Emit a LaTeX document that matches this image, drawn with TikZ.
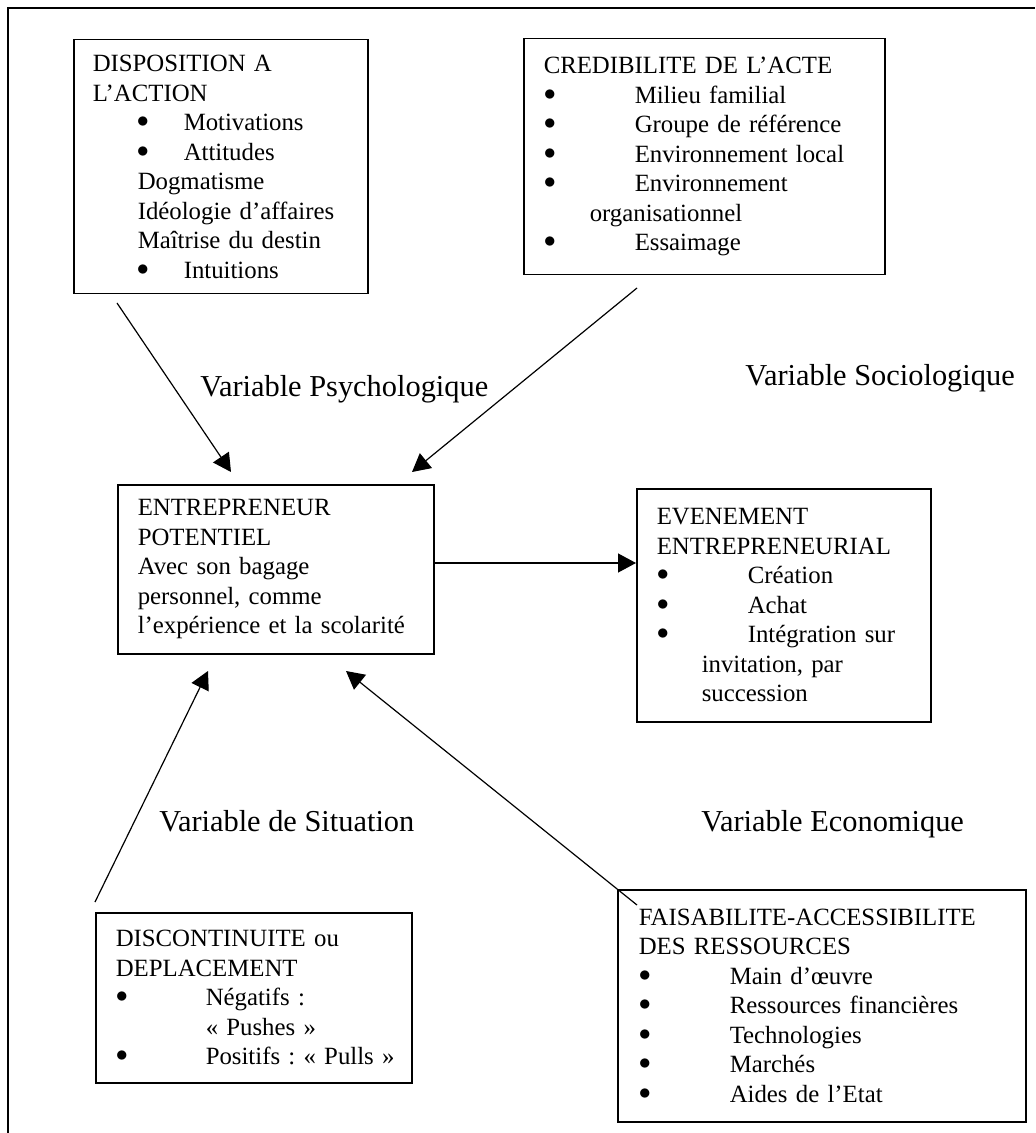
\documentclass[tikz,border=0pt]{standalone}
\usepackage{fontspec}
\setmainfont{Liberation Serif}
\usetikzlibrary{arrows.meta}
\setlength{\parindent}{0pt}
\frenchspacing
\newcommand{\puce}[2]{\hspace*{#1}\makebox[#2][l]{\raisebox{0.12em}{$\bullet$}}}

\begin{document}
\begin{tikzpicture}[x=0.5pt,y=-0.5pt,
    boite/.style={draw, line width=0.75pt, anchor=north west, align=left,
      inner ysep=0pt, font=\fontsize{12.4}{14.75}\selectfont},
    etiq/.style={anchor=base west, inner sep=0pt, font=\fontsize{15.2}{18}\selectfont},
    fleche/.style={line width=0.6pt, -{Triangle[length=9pt,width=9.5pt]}}]
  \useasboundingbox (0,0) rectangle (1035,1133);
  \draw[line width=0.75pt] (8,1133) -- (8,8) -- (1035,8);
  %
  \node[boite, inner xsep=9.5pt, text width=128pt, minimum height=127pt] (disp) at (73,39)
    {DISPOSITION A\\
     L'ACTION\\
     \puce{22pt}{23.5pt}Motivations\\
     \puce{22pt}{23.5pt}Attitudes\\
     \hspace*{22.5pt}Dogmatisme\\
     \hspace*{22.5pt}Idéologie d'affaires\\
     \hspace*{22.5pt}Maîtrise du destin\\
     \puce{22pt}{23.5pt}Intuitions};
  \node[boite, inner xsep=10pt, text width=160.5pt, minimum height=118pt] (cred) at (523,38)
    {CREDIBILITE DE L'ACTE\\
     \puce{0pt}{45.5pt}Milieu familial\\
     \puce{0pt}{45.5pt}Groupe de référence\\
     \puce{0pt}{45.5pt}Environnement local\\
     \puce{0pt}{45.5pt}Environnement\\
     \hspace*{23pt}organisationnel\\
     \puce{0pt}{45.5pt}Essaimage};
  \node[boite, inner xsep=10pt, text width=138pt, minimum height=84.5pt] (ent) at (117,484)
    {ENTREPRENEUR\\
     POTENTIEL\\
     Avec son bagage\\
     personnel, comme\\
     l'expérience et la scolarité};
  \node[boite, inner xsep=10pt, text width=127pt, minimum height=116.5pt] (evt) at (636,488)
    {EVENEMENT\\
     ENTREPRENEURIAL\\
     \puce{0pt}{45.5pt}Création\\
     \puce{0pt}{45.5pt}Achat\\
     \puce{0pt}{45.5pt}Intégration sur\\
     \hspace*{22.5pt}invitation, par\\
     \hspace*{22.5pt}succession};
  \node[boite, inner xsep=10pt, text width=138pt, minimum height=85pt] (disc) at (95,912)
    {DISCONTINUITE ou\\
     DEPLACEMENT\\
     \puce{0pt}{45pt}Négatifs :\\
     \hspace*{45pt}«~Pushes~»\\
     \puce{0pt}{45pt}\mbox{Positifs : «~Pulls~»}};
  \node[boite, inner xsep=10.5pt, text width=183pt, minimum height=116pt] (fais) at (617,889)
    {FAISABILITE-ACCESSIBILITE\\
     DES RESSOURCES\\
     \puce{0pt}{45.5pt}Main d'œuvre\\
     \puce{0pt}{45.5pt}Ressources financières\\
     \puce{0pt}{45.5pt}Technologies\\
     \puce{0pt}{45.5pt}Marchés\\
     \puce{0pt}{45.5pt}Aides de l'Etat};
  %
  \node[etiq] (psy) at (200,397) {Variable Psychologique};
  \node[etiq] (soc) at (745,386) {Variable Sociologique};
  \node[etiq] (sit) at (159,831) {Variable de Situation};
  \node[etiq] (eco) at (701,831) {Variable Economique};
  %
  \coordinate (dispOut) at (117,303);
  \coordinate (dispIn) at (231,472);
  \coordinate (credOut) at (637,288);
  \coordinate (credIn) at (412,472);
  \coordinate (evtIn) at (636,563);
  \coordinate (discOut) at (95,902);
  \coordinate (discIn) at (208,671);
  \coordinate (faisOut) at (637,905);
  \coordinate (faisIn) at (346,671);
  %
  \draw[fleche] (dispOut) -- (dispIn);
  \draw[fleche] (credOut) -- (credIn);
  \draw[fleche] (ent.east |- evtIn) -- (evtIn);
  \draw[fleche] (discOut) -- (discIn);
  \draw[fleche] (faisOut) -- (faisIn);
\end{tikzpicture}
\end{document}
